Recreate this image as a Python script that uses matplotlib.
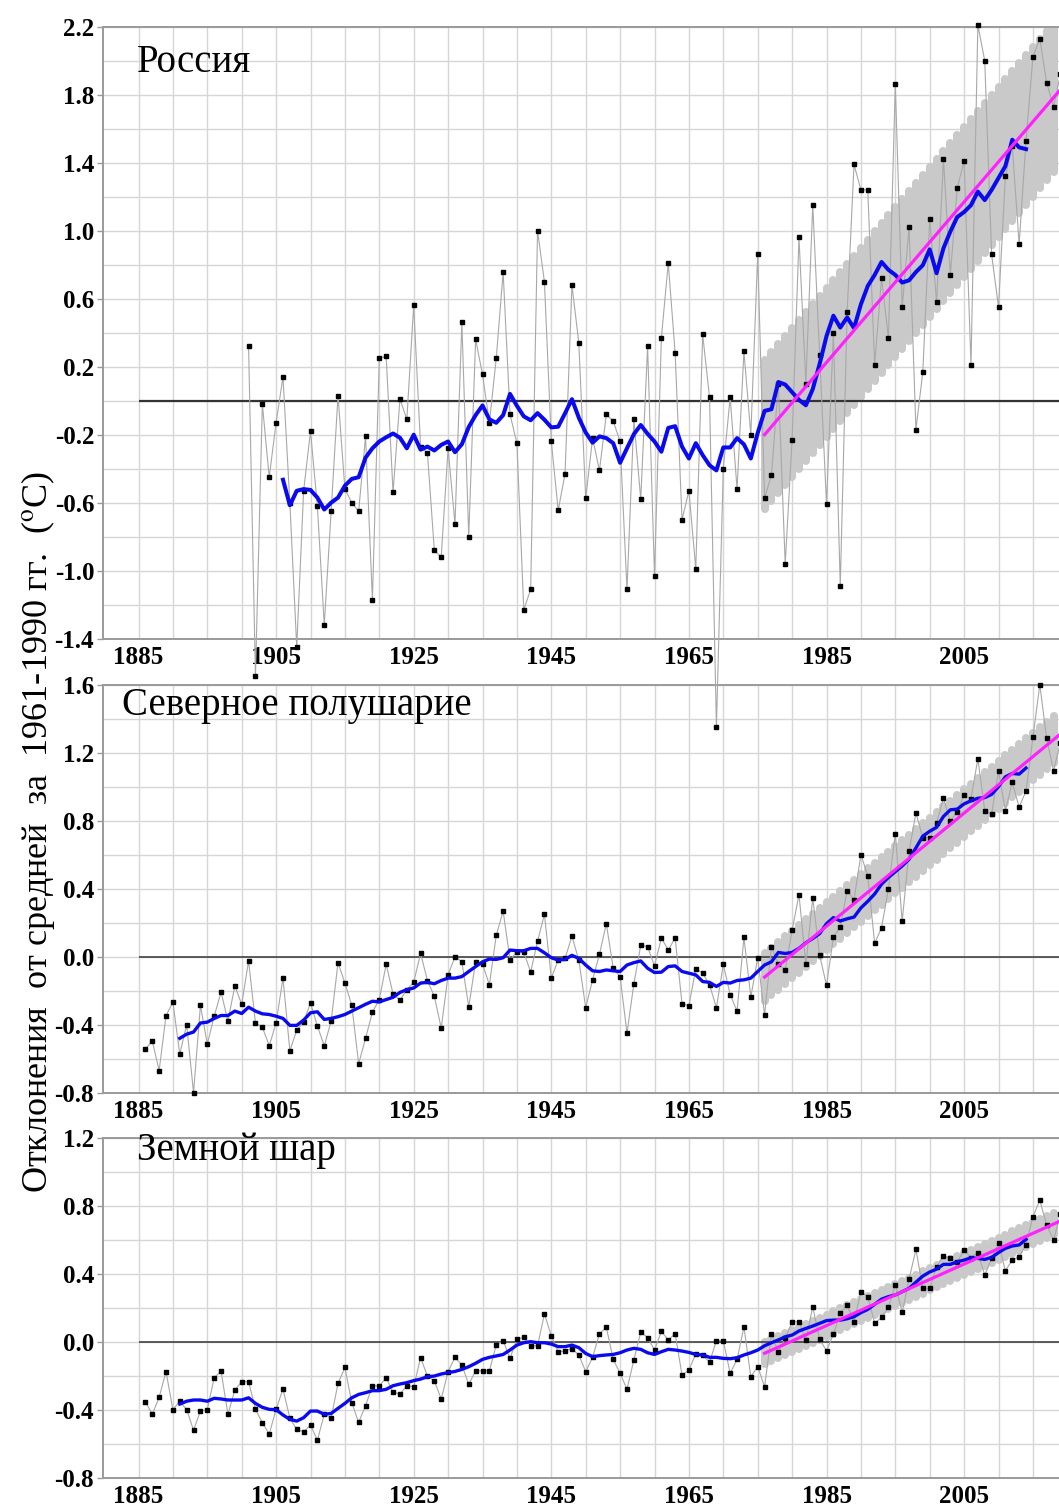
import numpy as np
import matplotlib
matplotlib.use("Agg")
import matplotlib.pyplot as plt
from matplotlib.ticker import FixedLocator

plt.rcParams['font.family'] = ['Liberation Serif', 'DejaVu Serif']
plt.rcParams['axes.unicode_minus'] = False
plt.rcParams['mathtext.fontset'] = 'stix'

# ---------------- data ----------------
# Russia: annual anomalies 1901-2019
ru_start = 1901
ru_vals = [0.32, -1.62, -0.02, -0.45, -0.13, 0.14, -0.60, -1.45, -0.53, -0.18,
           -0.62, -1.32, -0.65, 0.03, -0.52, -0.60, -0.65, -0.21, -1.17, 0.25,
           0.26, -0.54, 0.01, -0.11, 0.56, -0.27, -0.31, -0.88, -0.92, -0.28,
           -0.725, 0.46, -0.80, 0.36, 0.155, -0.13, 0.25, 0.755, -0.08, -0.25,
           -1.23, -1.11, 1.00, 0.70, -0.24, -0.645, -0.43, 0.68, 0.34, -0.575,
           -0.22, -0.41, -0.08, -0.12, -0.24, -1.11, -0.11, -0.58, 0.32, -1.03,
           0.37, 0.81, 0.28, -0.70, -0.53, -0.99, 0.39, 0.02, -1.92, -0.40,
           0.02, -0.52, 0.29, -0.20, 0.86, -0.57, -0.44, 0.10, -0.96, -0.23,
           0.96, 0.10, 1.15, 0.27, -0.61, 0.40, -1.09, 0.52, 1.39, 1.24,
           1.24, 0.21, 0.72, 0.37, 1.86, 0.55, 1.02, -0.17, 0.17, 1.07,
           0.58, 1.42, 0.74, 1.25, 1.41, 0.21, 2.21, 2.00, 0.86, 0.55,
           1.32, 1.50, 0.92, 1.53, 2.02, 2.13, 1.87, 1.73, 1.92]
# Russia: 11-year running mean 1906-2014
ru_mean_start = 1906
ru_mean = [-0.465, -0.615, -0.53, -0.52, -0.525, -0.57, -0.64, -0.60, -0.57, -0.50,
           -0.46, -0.45, -0.335, -0.28, -0.24, -0.215, -0.193, -0.218, -0.28, -0.20,
           -0.288, -0.27, -0.293, -0.26, -0.24, -0.303, -0.256, -0.155, -0.085, -0.028,
           -0.11, -0.13, -0.085, 0.04, -0.03, -0.092, -0.115, -0.073, -0.112, -0.157,
           -0.153, -0.074, 0.009, -0.10, -0.187, -0.247, -0.21, -0.22, -0.25, -0.365,
           -0.28, -0.197, -0.143, -0.195, -0.24, -0.30, -0.16, -0.15, -0.27, -0.34,
           -0.25, -0.32, -0.38, -0.41, -0.275, -0.275, -0.22, -0.257, -0.34, -0.19,
           -0.06, -0.05, 0.11, 0.095, 0.05, 0.005, -0.027, 0.068, 0.216, 0.38,
           0.50, 0.43, 0.49, 0.427, 0.567, 0.675, 0.74, 0.816, 0.77, 0.74,
           0.695, 0.708, 0.757, 0.797, 0.89, 0.75, 0.897, 0.995, 1.08, 1.11,
           1.15, 1.23, 1.18, 1.24, 1.31, 1.38, 1.535, 1.49, 1.48]

# Northern hemisphere: annual anomalies 1886-2019
nh_start = 1886
nh_vals = [-0.544, -0.495, -0.67, -0.346, -0.268, -0.573, -0.40, -0.80, -0.287, -0.515,
           -0.35, -0.208, -0.379, -0.171, -0.28, -0.025, -0.39, -0.414, -0.524, -0.39,
           -0.126, -0.553, -0.433, -0.384, -0.272, -0.408, -0.524, -0.379, -0.035, -0.155,
           -0.285, -0.63, -0.48, -0.326, -0.252, -0.045, -0.219, -0.256, -0.194, -0.15,
           0.019, -0.14, -0.233, -0.42, -0.107, 0.0, -0.03, -0.295, -0.03, -0.043,
           -0.165, 0.126, 0.268, -0.02, 0.03, 0.025, -0.09, 0.09, 0.25, -0.126,
           -0.02, -0.01, 0.12, -0.02, -0.30, -0.136, 0.014, 0.194, -0.068, -0.117,
           -0.45, -0.16, 0.068, 0.058, -0.054, 0.11, 0.04, 0.11, -0.276, -0.29,
           -0.07, -0.097, -0.165, -0.30, -0.045, -0.223, -0.32, 0.113, -0.237, -0.006,
           -0.344, 0.058, -0.043, -0.078, 0.155, 0.365, -0.045, 0.344, 0.01, -0.169,
           0.113, 0.175, 0.388, 0.334, 0.60, 0.476, 0.078, 0.171, 0.398, 0.724,
           0.208, 0.62, 0.845, 0.70, 0.70, 0.786, 0.932, 0.796, 0.854, 0.951,
           0.928, 1.165, 0.86, 0.839, 1.091, 0.86, 1.025, 0.88, 0.975, 1.29,
           1.60, 1.285, 1.093, 1.26]
nh_mean_start = 1891
nh_mean = [-0.48, -0.456, -0.443, -0.39, -0.385, -0.363, -0.346, -0.346, -0.32, -0.334,
           -0.297, -0.32, -0.336, -0.34, -0.35, -0.363, -0.404, -0.404, -0.373, -0.33,
           -0.324, -0.369, -0.363, -0.353, -0.34, -0.32, -0.30, -0.28, -0.262, -0.266,
           -0.252, -0.239, -0.21, -0.194, -0.184, -0.155, -0.151, -0.159, -0.14, -0.126,
           -0.126, -0.117, -0.087, -0.058, -0.03, -0.014, -0.016, -0.006, 0.039, 0.035,
           0.035, 0.049, 0.049, 0.023, -0.006, -0.02, -0.016, 0.008, -0.01, -0.049,
           -0.083, -0.087, -0.078, -0.083, -0.087, -0.049, -0.035, -0.025, -0.068, -0.093,
           -0.091, -0.058, -0.054, -0.087, -0.097, -0.107, -0.146, -0.151, -0.175, -0.151,
           -0.155, -0.14, -0.136, -0.126, -0.087, -0.049, -0.03, 0.025, 0.019, 0.025,
           0.049, 0.082, 0.107, 0.136, 0.194, 0.23, 0.21, 0.223, 0.233, 0.287,
           0.326, 0.369, 0.427, 0.466, 0.50, 0.534, 0.573, 0.64, 0.709, 0.738,
           0.761, 0.825, 0.864, 0.868, 0.899, 0.917, 0.932, 0.936, 0.955, 1.0,
           1.058, 1.078, 1.074, 1.11]

# Globe: annual anomalies 1886-2019
gl_start = 1886
gl_vals = [-0.353, -0.427, -0.327, -0.176, -0.40, -0.35, -0.40, -0.52, -0.408, -0.40,
           -0.212, -0.173, -0.427, -0.284, -0.235, -0.235, -0.398, -0.476, -0.543, -0.398,
           -0.278, -0.45, -0.516, -0.53, -0.49, -0.58, -0.427, -0.45, -0.245, -0.151,
           -0.359, -0.475, -0.376, -0.26, -0.26, -0.212, -0.298, -0.308, -0.26, -0.265,
           -0.094, -0.202, -0.231, -0.337, -0.176, -0.092, -0.137, -0.251, -0.171, -0.171,
           -0.171, -0.02, 0.006, -0.098, 0.016, 0.025, -0.024, -0.024, 0.163, 0.035,
           -0.059, -0.055, -0.041, -0.078, -0.176, -0.092, 0.047, 0.084, -0.104, -0.186,
           -0.28, -0.108, 0.057, 0.024, -0.049, 0.061, 0.01, 0.047, -0.196, -0.167,
           -0.07, -0.08, -0.12, 0.006, 0.006, -0.186, -0.104, 0.086, -0.206, -0.147,
           -0.265, 0.043, -0.059, 0.02, 0.116, 0.118, 0.01, 0.206, 0.014, -0.053,
           0.043, 0.167, 0.216, 0.116, 0.294, 0.265, 0.108, 0.143, 0.202, 0.335,
           0.173, 0.367, 0.543, 0.314, 0.314, 0.44, 0.504, 0.49, 0.47, 0.539,
           0.494, 0.524, 0.392, 0.49, 0.578, 0.418, 0.48, 0.50, 0.57, 0.735,
           0.833, 0.686, 0.598, 0.75]
gl_mean_start = 1891
gl_mean = [-0.367, -0.35, -0.343, -0.343, -0.35, -0.333, -0.337, -0.343, -0.343, -0.343,
           -0.33, -0.363, -0.386, -0.398, -0.40, -0.431, -0.457, -0.467, -0.447, -0.408,
           -0.408, -0.427, -0.422, -0.392, -0.363, -0.33, -0.31, -0.30, -0.288, -0.288,
           -0.28, -0.259, -0.249, -0.241, -0.229, -0.22, -0.206, -0.202, -0.19, -0.182,
           -0.175, -0.163, -0.147, -0.127, -0.104, -0.092, -0.084, -0.075, -0.049, -0.02,
           -0.006, 0.0, -0.006, -0.006, -0.014, -0.029, -0.029, -0.02, -0.035, -0.069,
           -0.088, -0.082, -0.078, -0.075, -0.065, -0.049, -0.039, -0.045, -0.065, -0.075,
           -0.059, -0.045, -0.049, -0.055, -0.063, -0.075, -0.078, -0.092, -0.092, -0.098,
           -0.10, -0.094, -0.078, -0.065, -0.049, -0.024, -0.006, 0.01, 0.029, 0.039,
           0.063, 0.078, 0.092, 0.108, 0.124, 0.127, 0.127, 0.135, 0.147, 0.171,
           0.19, 0.22, 0.25, 0.265, 0.275, 0.294, 0.314, 0.35, 0.386, 0.41,
           0.427, 0.455, 0.455, 0.47, 0.48, 0.494, 0.49, 0.484, 0.496, 0.524,
           0.549, 0.563, 0.569, 0.602]

# linear trends 1976-2019 (value at start, value at end) and half-width of band
trend_years = [1976, 2019]
ru_trend = [-0.20, 1.83]
nh_trend = [-0.12, 1.31]
gl_trend = [-0.068, 0.71]
ru_band = 0.44
nh_band = 0.14
gl_band = 0.065

titles = ["Россия", "Северное полушарие", "Земной шар"]
xtick_labels = [1885, 1905, 1925, 1945, 1965, 1985, 2005]
ylabel = "Отклонения  от средней  за  1961-1990 гг.  ($^{\\rm o}$C)"

# ---------------- figure ----------------
W, H = 1059, 1506
fig = plt.figure(figsize=(W / 100, H / 100), dpi=100)
LEFT = 102.5
XMIN = 1885 - (138.5 - LEFT) / 6.88
XMAX = 1885 + (W - 138.5) / 6.88


def make_ax(top_px, bot_px):
    return fig.add_axes([LEFT / W, 1 - bot_px / H, 1 - LEFT / W, (bot_px - top_px) / H])


panels = [
    dict(rect=(26.7, 638.7), ylim=(-1.4, 2.2), start=ru_start, vals=ru_vals,
         mstart=ru_mean_start, mean=ru_mean, trend=ru_trend, band=ru_band,
         title=titles[0], tpos=(1884.8, 1.99), mlw=2.9, zlw=1.6),
    dict(rect=(684.7, 1092.7), ylim=(-0.8, 1.6), start=nh_start, vals=nh_vals,
         mstart=nh_mean_start, mean=nh_mean, trend=nh_trend, band=nh_band,
         title=titles[1], tpos=(1882.6, 1.475), mlw=2.4, zlw=1.1),
    dict(rect=(1137.7, 1477.7), ylim=(-0.8, 1.2), start=gl_start, vals=gl_vals,
         mstart=gl_mean_start, mean=gl_mean, trend=gl_trend, band=gl_band,
         title=titles[2], tpos=(1884.8, 1.125), mlw=2.4, zlw=1.1),
]

grid_c = '#d6d6d6'
spine_c = '#9a9a9a'

for i, p in enumerate(panels):
    ax = make_ax(*p['rect'])
    ax.set_zorder(10 - i)
    ax.set_xlim(XMIN, XMAX)
    ax.set_ylim(*p['ylim'])
    lo, hi = p['ylim']

    # ticks and grid
    ax.xaxis.set_major_locator(FixedLocator(xtick_labels))
    ax.xaxis.set_minor_locator(FixedLocator(list(range(1885, 2019, 5))))
    ax.set_xticklabels([str(v) for v in xtick_labels], fontsize=18, fontweight='bold')
    yt = [round(v, 1) for v in np.arange(lo, hi + 0.001, 0.4)]
    ax.set_yticks(yt)
    ax.set_yticklabels([f"{v + 0.0:.1f}" for v in yt], fontsize=18, fontweight='bold')
    ax.yaxis.set_minor_locator(FixedLocator([round(v, 1) for v in np.arange(lo, hi + 0.001, 0.2)]))
    ax.grid(True, which='both', color=grid_c, linewidth=1.0, zorder=0)
    ax.set_axisbelow(True)
    ax.tick_params(axis='x', which='both', length=0, pad=5)
    ax.tick_params(axis='y', which='major', length=4, width=1, color=spine_c, pad=2)
    ax.tick_params(axis='y', which='minor', length=0)
    for s in ['left', 'top', 'bottom']:
        ax.spines[s].set_color(spine_c)
        ax.spines[s].set_linewidth(1.4)
    ax.spines['right'].set_visible(False)

    # trend band (regression line +/- half width), drawn per year
    ty0, ty1 = trend_years
    slope = (p['trend'][1] - p['trend'][0]) / (ty1 - ty0)
    byears = np.arange(ty0, ty1 + 1)
    bcenter = p['trend'][0] + slope * (byears - ty0)
    ax.vlines(byears, bcenter - p['band'], bcenter + p['band'], colors='#c9c9c9',
              linewidth=5.8, capstyle='round', zorder=1)

    # zero line
    ax.hlines(0, 1885, XMAX, colors='#333333', linewidth=p['zlw'], zorder=2)

    # annual values
    yrs = np.arange(p['start'], p['start'] + len(p['vals']))
    ax.plot(yrs, p['vals'], color='#a8a8a8', linewidth=0.8, zorder=3, clip_on=False)
    ax.plot(yrs, p['vals'], linestyle='none', marker='s', markersize=2.8,
            color='black', zorder=4, clip_on=False)

    # running mean
    myrs = np.arange(p['mstart'], p['mstart'] + len(p['mean']))
    ax.plot(myrs, p['mean'], color='#0a0aee', linewidth=p['mlw'], zorder=5,
            solid_joinstyle='round')

    # trend line
    ax.plot(trend_years, p['trend'], color='#ff22ff', linewidth=2.3, zorder=6)

    ax.text(p['tpos'][0], p['tpos'][1], p['title'], fontsize=28, va='center',
            ha='left', zorder=7)

fig.text(38 / W, 1 - 832 / H, ylabel, rotation=90, ha='center', va='center',
         fontsize=26)

fig.savefig("out.png", dpi=100)
